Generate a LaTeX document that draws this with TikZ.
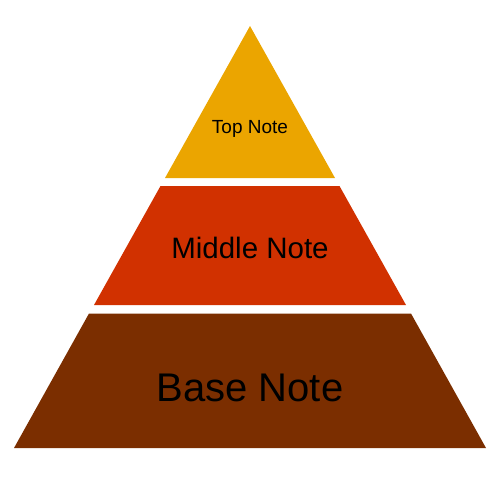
\documentclass[tikz,border=0pt]{standalone}
\usepackage{fontspec}
\setmainfont{Liberation Sans}
\definecolor{topc}{HTML}{EBA500}
\definecolor{midc}{HTML}{D13100}
\definecolor{basec}{HTML}{7B2E00}
\begin{document}
\begin{tikzpicture}[x=1pt,y=-1pt,
  layer/.style={draw=none},
  lbl/.style={anchor=base,inner sep=0pt,text=black}]
\useasboundingbox (0,0) rectangle (500,500);
% apex (250,26), base corners (14,448) and (486,448); slope 0.5592 px per px
\fill[topc,layer] (250,26) -- (335,178) -- (165,178) -- cycle;
\fill[midc,layer] (160.5,186) -- (339.5,186) -- (406,305) -- (94,305) -- cycle;
\fill[basec,layer] (89,313.5) -- (411,313.5) -- (486,448) -- (14,448) -- cycle;
\node[lbl,font=\fontsize{19}{21}\selectfont] (top) at (250,133) {Top Note};
\node[lbl,font=\fontsize{29.5}{33}\selectfont] (mid) at (250,258.3) {Middle Note};
\node[lbl,font=\fontsize{40}{44}\selectfont] (base) at (250,401) {Base Note};
\end{tikzpicture}
\end{document}
